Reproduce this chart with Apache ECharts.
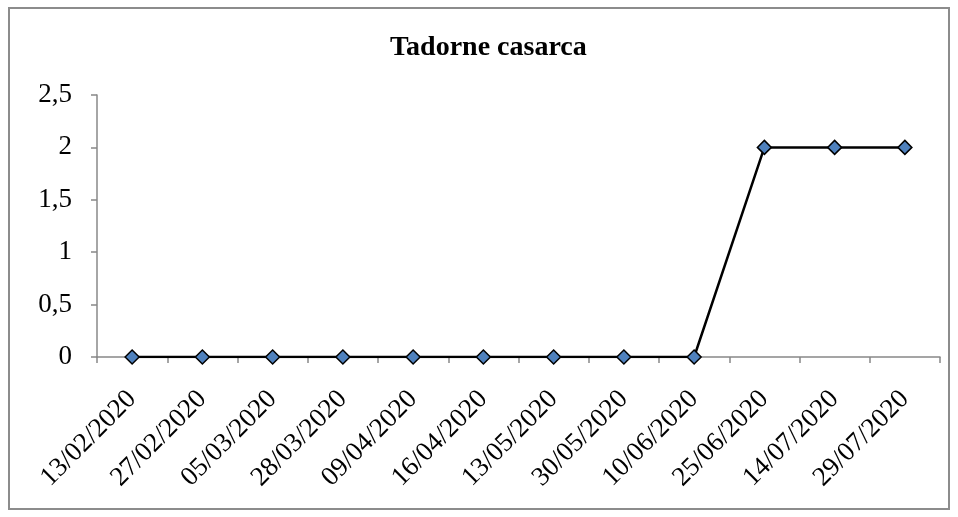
<!DOCTYPE html>
<html>
<head>
<meta charset="utf-8">
<script src="https://cdn.jsdelivr.net/npm/echarts@6/dist/echarts.min.js"></script>
<style>
  html, body { margin: 0; padding: 0; background: #fff; }
  #chart { width: 958px; height: 517px; }
</style>
</head>
<body>
<div id="chart"></div>
<script>
// dates of the counts
var dates = ['13/02/2020', '27/02/2020', '05/03/2020', '28/03/2020', '09/04/2020', '16/04/2020',
  '13/05/2020', '30/05/2020', '10/06/2020', '25/06/2020', '14/07/2020', '29/07/2020'];
// number of birds seen
var counts = [0, 0, 0, 0, 0, 0, 0, 0, 0, 2, 2, 2];
var chartTitle = 'Tadorne casarca';

var serif = '"Liberation Serif", "Times New Roman", serif';

var chartDom = document.getElementById('chart');
var myChart = echarts.init(chartDom);

var option = {
  animation: false,
  title: {
    text: chartTitle,
    left: 385,
    top: 29,
    textStyle: { fontFamily: serif, fontSize: 28, fontWeight: 'bold', color: '#000' }
  },
  graphic: [{
    type: 'rect',
    shape: { x: 9, y: 8, width: 940, height: 501 },
    style: { fill: 'none', stroke: '#8c8c8c', lineWidth: 2 }
  }],
  grid: { left: 97, right: 18, top: 95, bottom: 160 },
  xAxis: {
    type: 'category',
    data: dates,
    boundaryGap: true,
    axisLine: { lineStyle: { color: '#888', width: 1.5 } },
    axisTick: { show: true, length: 6, lineStyle: { color: '#888', width: 1.5 } },
    axisLabel: { rotate: 45, margin: 38, fontFamily: serif, fontSize: 27, color: '#000' }
  },
  yAxis: {
    type: 'value',
    min: 0,
    max: 2.5,
    interval: 0.5,
    splitLine: { show: false },
    axisLine: { show: true, lineStyle: { color: '#888', width: 1.5 } },
    axisTick: { show: true, length: 6, lineStyle: { color: '#888', width: 1.5 } },
    axisLabel: {
      margin: 25,
      fontFamily: serif, fontSize: 27, color: '#000',
      formatter: function (v) { return String(v).replace('.', ','); }
    }
  },
  series: [{
    type: 'line',
    data: counts,
    symbol: 'diamond',
    symbolSize: 14,
    lineStyle: { color: '#000', width: 2.5 },
    itemStyle: { color: '#4F81BD', borderColor: '#000', borderWidth: 1.5 }
  }]
};
myChart.setOption(option);
</script>
</body>
</html>
